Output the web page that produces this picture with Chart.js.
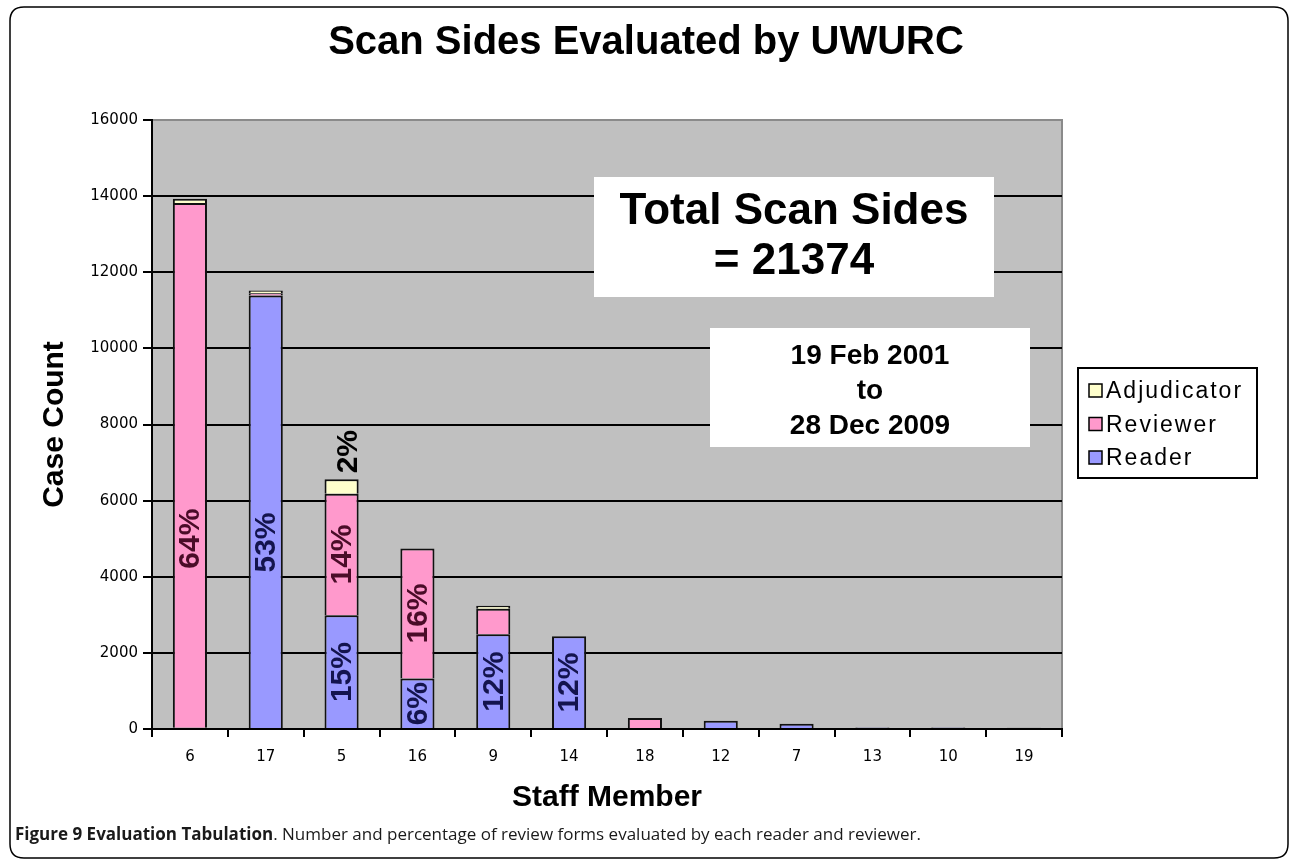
<!DOCTYPE html>
<html>
<head>
<meta charset="utf-8">
<script src="https://cdn.jsdelivr.net/npm/chart.js@4.4.1/dist/chart.umd.min.js"></script>
<style>
  body { margin: 0; background: #fff; }
  #wrap { width: 1292px; height: 861px; }
</style>
</head>
<body>
<div id="wrap"><canvas id="scanChart" width="1292" height="861"></canvas></div>
<script>
// Scan sides per staff member, stacked by role
const staff = ['6', '17', '5', '16', '9', '14', '18', '12', '7', '13', '10', '19'];
const reader      = [30, 11390, 2990, 1330, 2490, 2440, 0, 220, 140, 40, 40, 30];
const reviewer    = [13790, 60, 3190, 3410, 670, 0, 290, 0, 0, 0, 0, 0];
const adjudicator = [110, 70, 380, 0, 80, 0, 0, 0, 0, 0, 0, 0];

// percentage labels written inside the bars
const readerPct      = ['', '53%', '15%', '6%', '12%', '12%', '', '', '', '', '', ''];
const reviewerPct    = ['64%', '', '14%', '16%', '', '', '', '', '', '', '', ''];
const adjudicatorPct = ['', '', '2%', '', '', '', '', '', '', '', '', ''];
// where a label does not sit in the middle of its segment (value units)
const readerPctAt   = [null, 4900, null, null, null, null, null, null, null, null, null, null];
const reviewerPctAt = [5000, null, null, null, null, null, null, null, null, null, null, null];

const yTicks = [0, 2000, 4000, 6000, 8000, 10000, 12000, 14000, 16000];
const totalBox = ['Total Scan Sides', '= 21374'];
const dateBox = ['19 Feb 2001', 'to', '28 Dec 2009'];
const captionBold = 'Figure 9 Evaluation Tabulation';
const captionText = '. Number and percentage of review forms evaluated by each reader and reviewer.';

const ARIAL = "'Liberation Sans', Arial, sans-serif";

Chart.defaults.color = '#000';

function roundRect(ctx, x, y, w, h, r) {
  ctx.beginPath();
  ctx.moveTo(x + r, y);
  ctx.lineTo(x + w - r, y);
  ctx.quadraticCurveTo(x + w, y, x + w, y + r);
  ctx.lineTo(x + w, y + h - r);
  ctx.quadraticCurveTo(x + w, y + h, x + w - r, y + h);
  ctx.lineTo(x + r, y + h);
  ctx.quadraticCurveTo(x, y + h, x, y + h - r);
  ctx.lineTo(x, y + r);
  ctx.quadraticCurveTo(x, y, x + r, y);
  ctx.closePath();
}

function rotText(ctx, text, x, y, font, color) {
  ctx.save();
  ctx.translate(x, y);
  ctx.rotate(-Math.PI / 2);
  ctx.font = font;
  ctx.fillStyle = color;
  ctx.textAlign = 'center';
  ctx.textBaseline = 'middle';
  ctx.fillText(text, 0, 1);
  ctx.restore();
}

const decor = {
  id: 'decor',
  beforeDraw(chart) {
    const {ctx, chartArea: a} = chart;
    ctx.save();
    ctx.fillStyle = '#fff';
    ctx.fillRect(0, 0, chart.width, chart.height);
    // outer frame
    roundRect(ctx, 10, 7, 1278, 851, 14);
    ctx.lineWidth = 1.5;
    ctx.strokeStyle = '#000';
    ctx.stroke();
    // plot background
    ctx.fillStyle = '#c0c0c0';
    ctx.fillRect(a.left, a.top, a.right - a.left, a.bottom - a.top);
    ctx.strokeStyle = '#8a8a8a';
    ctx.lineWidth = 2;
    ctx.beginPath();
    ctx.moveTo(a.left, a.top);
    ctx.lineTo(a.right, a.top);
    ctx.lineTo(a.right, a.bottom);
    ctx.stroke();
    // title
    ctx.fillStyle = '#000';
    ctx.font = 'bold 40px ' + ARIAL;
    ctx.textAlign = 'center';
    ctx.textBaseline = 'middle';
    ctx.fillText('Scan Sides Evaluated by UWURC', 646, 43);
    // caption
    ctx.textAlign = 'left';
    ctx.textBaseline = 'alphabetic';
    ctx.fillStyle = '#1a1a1a';
    ctx.font = "bold 17px 'Open Sans', 'Noto Sans', sans-serif";
    ctx.fillText(captionBold, 15, 840);
    const w = ctx.measureText(captionBold).width;
    ctx.font = "17px 'Open Sans', 'Noto Sans', sans-serif";
    ctx.fillText(captionText, 15 + w, 840);
    ctx.restore();
  },
  afterDatasetsDraw(chart) {
    const {ctx} = chart;
    const y = chart.scales.y;
    ctx.save();
    // text boxes
    ctx.fillStyle = '#fff';
    ctx.fillRect(594, 177, 400, 120);
    ctx.fillRect(710, 328, 320, 119);
    ctx.fillStyle = '#000';
    ctx.textAlign = 'center';
    ctx.textBaseline = 'middle';
    ctx.font = 'bold 44px ' + ARIAL;
    ctx.fillText(totalBox[0], 794, 212);
    ctx.fillText(totalBox[1], 794, 262);
    ctx.font = 'bold 28px ' + ARIAL;
    dateBox.forEach((t, i) => ctx.fillText(t, 870, 356 + i * 35));

    // percentage labels
    const font = 'bold 30px ' + ARIAL;
    const metaR = chart.getDatasetMeta(0).data;
    const metaV = chart.getDatasetMeta(1).data;
    staff.forEach((s, i) => {
      if (readerPct[i]) {
        const at = readerPctAt[i] != null ? readerPctAt[i] : reader[i] / 2;
        rotText(ctx, readerPct[i], metaR[i].x, y.getPixelForValue(at), font, '#14144e');
      }
      if (reviewerPct[i]) {
        const at = reviewerPctAt[i] != null ? reviewerPctAt[i] : reader[i] + reviewer[i] / 2;
        rotText(ctx, reviewerPct[i], metaV[i].x, y.getPixelForValue(at), font, '#4a0c28');
      }
      if (adjudicatorPct[i]) {
        const top = y.getPixelForValue(reader[i] + reviewer[i] + adjudicator[i]);
        ctx.font = font;
        const tw = ctx.measureText(adjudicatorPct[i]).width;
        rotText(ctx, adjudicatorPct[i], metaR[i].x + 6, top - 6 - tw / 2, font, '#000');
      }
    });

    // legend, top entry = last stacked series
    const lx = 1078, ly = 368;
    ctx.fillStyle = '#fff';
    ctx.fillRect(lx, ly, 179, 110);
    ctx.strokeStyle = '#000';
    ctx.lineWidth = 2;
    ctx.strokeRect(lx, ly, 179, 110);
    const sets = chart.data.datasets.slice().reverse();
    ctx.font = '23px ' + ARIAL;
    ctx.letterSpacing = '2px';
    ctx.textAlign = 'left';
    sets.forEach((d, i) => {
      const cy = 391 + i * 33.5;
      ctx.fillStyle = d.backgroundColor;
      ctx.fillRect(1089, cy - 7, 13, 13);
      ctx.lineWidth = 1.5;
      ctx.strokeRect(1089, cy - 7, 13, 13);
      ctx.fillStyle = '#000';
      ctx.fillText(d.label, 1106, cy + 1);
    });
    ctx.restore();
  }
};

const nz = arr => arr.map(v => (v ? v : null));

new Chart(document.getElementById('scanChart'), {
  type: 'bar',
  data: {
    labels: staff,
    datasets: [
      { label: 'Reader', data: nz(reader), backgroundColor: '#9999ff' },
      { label: 'Reviewer', data: nz(reviewer), backgroundColor: '#ff99cc' },
      { label: 'Adjudicator', data: nz(adjudicator), backgroundColor: '#ffffcc' }
    ]
  },
  options: {
    responsive: false,
    animation: false,
    devicePixelRatio: 1,
    layout: { padding: { left: 30, top: 120, right: 230, bottom: 43 } },
    datasets: {
      bar: {
        borderColor: '#111',
        borderWidth: 2,
        categoryPercentage: 1.0,
        barPercentage: 0.45
      }
    },
    plugins: {
      legend: { display: false },
      tooltip: { enabled: false }
    },
    scales: {
      x: {
        stacked: true,
        afterFit: s => { s.height = 89; },
        grid: { drawOnChartArea: false, tickLength: 8, tickColor: '#000', lineWidth: 2 },
        border: { color: '#000', width: 2 },
        ticks: { font: { family: "'DejaVu Sans', sans-serif", size: 15 }, padding: 11, color: '#000' },
        title: {
          display: true,
          text: 'Staff Member',
          font: { family: ARIAL, size: 30, weight: 'bold' },
          padding: { top: 0, bottom: 2 }
        }
      },
      y: {
        stacked: true,
        min: 0,
        max: 16000,
        afterFit: s => { s.width = 122; },
        afterBuildTicks: s => { s.ticks = yTicks.map(v => ({ value: v })); },
        grid: {
          color: c => (c.tick && c.tick.value === 16000 ? 'rgba(0,0,0,0)' : '#000'),
          tickColor: '#000',
          lineWidth: 2,
          tickLength: 9
        },
        border: { color: '#000', width: 2 },
        ticks: {
          font: { family: "'DejaVu Sans', sans-serif", size: 15 },
          padding: 5,
          color: '#000',
          callback: v => String(v)
        },
        title: {
          display: true,
          text: 'Case Count',
          font: { family: ARIAL, size: 30, weight: 'bold' },
          padding: { top: 7, bottom: 0 }
        }
      }
    }
  },
  plugins: [decor]
});
</script>
</body>
</html>
